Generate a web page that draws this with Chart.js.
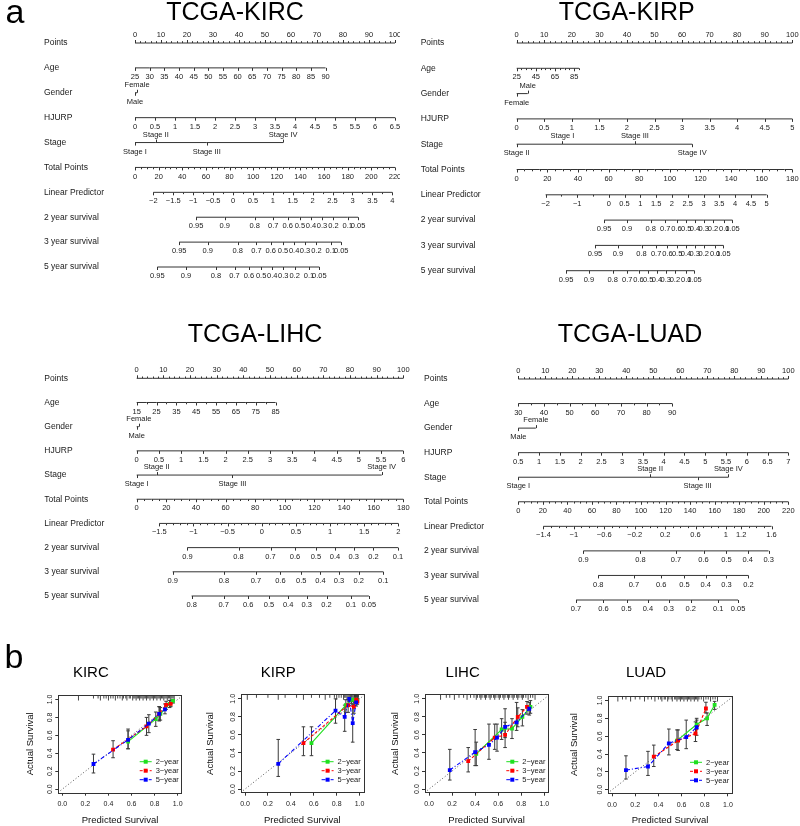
<!DOCTYPE html>
<html>
<head>
<meta charset="utf-8">
<script src="https://cdn.jsdelivr.net/npm/chart.js@4.4.1/dist/chart.umd.min.js"></script>
<style>
body { margin: 0; background: #fff; }
#fig { position: relative; width: 800px; height: 826px; overflow: hidden; background: #fff; }
#fig canvas { position: absolute; }
</style>
</head>
<body>
<div id="fig">
  <canvas id="nKirc" width="400" height="290" style="left:0px;top:0px"></canvas>
  <canvas id="nKirp" width="400" height="290" style="left:400px;top:0px"></canvas>
  <canvas id="nLihc" width="410" height="320" style="left:0px;top:300px"></canvas>
  <canvas id="nLuad" width="400" height="320" style="left:400px;top:300px"></canvas>
  <canvas id="cKirc" width="220" height="186" style="left:0px;top:640px"></canvas>
  <canvas id="cKirp" width="208" height="186" style="left:192.7px;top:640px"></canvas>
  <canvas id="cLihc" width="206" height="186" style="left:377px;top:640px"></canvas>
  <canvas id="cLuad" width="219" height="186" style="left:560.3px;top:640px"></canvas>
</div>
<script>
// ---- nomogram data (positions are on the 0-100 "Points" scale) ----
var nomoRows = ['Points', 'Age', 'Gender', 'HJURP', 'Stage', 'Total Points',
    'Linear Predictor', '2 year survival', '3 year survival', '5 year survival'];
var pointsTicks = [0, 10, 20, 30, 40, 50, 60, 70, 80, 90, 100];

// KIRC
var kircAge = [25, 30, 35, 40, 45, 50, 55, 60, 65, 70, 75, 80, 85, 90];
var kircAgePts = [0, 73.3];
var kircGender = ['Female', 'Male'];
var kircGenderPts = [0.8, 0];
var kircGenderSide = ['above', 'below'];
var kircHjurp = [0, 0.5, 1, 1.5, 2, 2.5, 3, 3.5, 4, 4.5, 5, 5.5, 6, 6.5];
var kircStage = ['Stage I', 'Stage II', 'Stage III', 'Stage IV'];
var kircStagePts = [0, 8, 27.6, 57];
var kircStageSide = ['below', 'above', 'below', 'above'];
var kircTotal = [0, 20, 40, 60, 80, 100, 120, 140, 160, 180, 200, 220];
var kircLp = [-2, -1.5, -1, -0.5, 0, 0.5, 1, 1.5, 2, 2.5, 3, 3.5, 4];
var kircLpPts = [7.05, 98.96];
var kircSurv = ['0.95', '0.9', '0.8', '0.7', '0.6', '0.5', '0.4', '0.3', '0.2', '0.1', '0.05'];
var kirc2y = [23.5, 34.5, 46.0, 53.2, 58.7, 63.4, 67.7, 71.9, 76.3, 81.8, 85.8];
var kirc3y = [17.0, 28.0, 39.5, 46.7, 52.2, 56.9, 61.2, 65.4, 69.8, 75.3, 79.3];
var kirc5y = [8.6, 19.6, 31.1, 38.3, 43.8, 48.5, 52.8, 57.0, 61.4, 66.9, 70.9];

// KIRP
var kirpAge = [25, 45, 65, 85];
var kirpAgeRange = [25, 90];
var kirpAgePts = [0, 22.6];
var kirpGender = ['Male', 'Female'];
var kirpGenderPts = [4.0, 0];
var kirpGenderSide = ['above', 'below'];
var kirpHjurp = [0, 0.5, 1, 1.5, 2, 2.5, 3, 3.5, 4, 4.5, 5];
var kirpStage = ['Stage II', 'Stage I', 'Stage III', 'Stage IV'];
var kirpStagePts = [0, 16.6, 42.9, 63.7];
var kirpStageSide = ['below', 'above', 'above', 'below'];
var kirpTotal = [0, 20, 40, 60, 80, 100, 120, 140, 160, 180];
var kirpLp = [-2, -1, 0, 0.5, 1, 1.5, 2, 2.5, 3, 3.5, 4, 4.5, 5];
var kirpLpPts = [10.5, 90.7];
var kirpSurv = ['0.95', '0.9', '0.8', '0.7', '0.6', '0.5', '0.4', '0.3', '0.2', '0.1', '0.05'];
var kirp2y = [31.7, 40.0, 48.6, 53.9, 58.0, 61.5, 64.7, 67.9, 71.2, 75.3, 78.3];
var kirp3y = [28.4, 36.7, 45.3, 50.6, 54.7, 58.2, 61.4, 64.6, 67.9, 72.0, 75.0];
var kirp5y = [17.9, 26.2, 34.8, 40.1, 44.2, 47.7, 50.9, 54.1, 57.4, 61.5, 64.5];

// LIHC
var lihcAge = [15, 25, 35, 45, 55, 65, 75, 85];
var lihcAgePts = [0, 52.1];
var lihcGender = ['Female', 'Male'];
var lihcGenderPts = [0.8, 0];
var lihcGenderSide = ['above', 'below'];
var lihcHjurp = [0, 0.5, 1, 1.5, 2, 2.5, 3, 3.5, 4, 4.5, 5, 5.5, 6];
var lihcStage = ['Stage I', 'Stage II', 'Stage III', 'Stage IV'];
var lihcStagePts = [0, 7.5, 35.9, 91.9];
var lihcStageSide = ['below', 'above', 'below', 'above'];
var lihcTotal = [0, 20, 40, 60, 80, 100, 120, 140, 160, 180];
var lihcLp = [-1.5, -1, -0.5, 0, 0.5, 1, 1.5, 2];
var lihcLpPts = [8.5, 98.1];
var lihcSurv23 = ['0.9', '0.8', '0.7', '0.6', '0.5', '0.4', '0.3', '0.2', '0.1'];
var lihcSurv5 = ['0.8', '0.7', '0.6', '0.5', '0.4', '0.3', '0.2', '0.1', '0.05'];
var lihc2y = [19.0, 38.2, 50.2, 59.4, 67.2, 74.4, 81.4, 88.8, 98.0];
var lihc3y = [13.5, 32.7, 44.7, 53.9, 61.7, 68.9, 75.9, 83.3, 92.5];
var lihc5y = [20.6, 32.6, 41.8, 49.6, 56.8, 63.8, 71.2, 80.4, 87.1];

// LUAD
var luadAge = [30, 40, 50, 60, 70, 80, 90];
var luadAgePts = [0, 57.0];
var luadGender = ['Female', 'Male'];
var luadGenderPts = [6.5, 0];
var luadGenderSide = ['above', 'below'];
var luadHjurp = [0.5, 1, 1.5, 2, 2.5, 3, 3.5, 4, 4.5, 5, 5.5, 6, 6.5, 7];
var luadStage = ['Stage I', 'Stage II', 'Stage III', 'Stage IV'];
var luadStagePts = [0, 48.8, 66.4, 77.8];
var luadStageSide = ['below', 'above', 'below', 'above'];
var luadTotal = [0, 20, 40, 60, 80, 100, 120, 140, 160, 180, 200, 220];
var luadLp = [-1.4, -1, -0.6, -0.2, 0.2, 0.6, 1, 1.2, 1.6];
var luadLpPts = [9.3, 93.8];
var luadSurv2 = ['0.9', '0.8', '0.7', '0.6', '0.5', '0.4', '0.3'];
var luadSurv3 = ['0.8', '0.7', '0.6', '0.5', '0.4', '0.3', '0.2'];
var luadSurv5 = ['0.7', '0.6', '0.5', '0.4', '0.3', '0.2', '0.1', '0.05'];
var luad2y = [24.1, 45.2, 58.4, 68.6, 77.1, 85.0, 92.7];
var luad3y = [29.6, 42.8, 52.9, 61.5, 69.4, 77.1, 85.2];
var luad5y = [21.4, 31.5, 40.1, 48.0, 55.7, 63.9, 74.0, 81.4];

// ---- calibration data: [2-year, 3-year, 5-year] ----
var calSeries = ['2\u2212year', '3\u2212year', '5\u2212year'];
var calTicks = [0, 0.2, 0.4, 0.6, 0.8, 1.0];

var kircPred = [[0.57, 0.81, 0.85, 0.93, 0.96], [0.44, 0.73, 0.84, 0.90, 0.94], [0.27, 0.57, 0.75, 0.84, 0.89]];
var kircObs = [[0.53, 0.78, 0.84, 0.95, 0.985], [0.44, 0.70, 0.84, 0.94, 0.95], [0.28, 0.55, 0.73, 0.84, 0.89]];
var kircLo = [[0.45, 0.70, 0.77, 0.91, 0.96], [0.35, 0.60, 0.76, 0.89, 0.92], [0.18, 0.45, 0.63, 0.77, 0.84]];
var kircHi = [[0.65, 0.86, 0.91, 0.99, 1.0], [0.54, 0.80, 0.92, 0.98, 0.99], [0.39, 0.67, 0.83, 0.92, 0.95]];
var kircRug = [0.14, 0.27, 0.31, 0.33, 0.36, 0.38, 0.4, 0.42, 0.44, 0.46, 0.48, 0.5, 0.52, 0.53, 0.55, 0.56, 0.58, 0.59,
    0.61, 0.62, 0.63, 0.64, 0.65, 0.66, 0.67, 0.68, 0.69, 0.7, 0.71, 0.72, 0.73, 0.74, 0.75, 0.76, 0.77, 0.78, 0.79, 0.8,
    0.81, 0.82, 0.83, 0.84, 0.85, 0.86, 0.87, 0.88, 0.89, 0.9, 0.91, 0.92, 0.93, 0.94, 0.95, 0.96, 0.97];

var kirpPred = [[0.58, 0.88, 0.93, 0.96, 0.98], [0.51, 0.90, 0.95, 0.97, 0.98], [0.29, 0.79, 0.87, 0.91, 0.94, 0.97]];
var kirpObs = [[0.51, 0.93, 0.99, 0.99, 0.98], [0.51, 0.93, 0.91, 0.99, 0.97], [0.28, 0.87, 0.80, 1.0, 0.73, 0.96]];
var kirpLo = [[0.37, 0.85, 0.95, 0.96, 0.96], [0.37, 0.85, 0.84, 0.95, 0.94], [0.14, 0.73, 0.64, 0.97, 0.52, 0.92]];
var kirpHi = [[0.69, 0.99, 1.0, 1.0, 1.0], [0.69, 0.99, 0.97, 1.0, 1.0], [0.55, 1.0, 0.93, 1.0, 0.94, 1.0]];
var kirpRug = [0.02, 0.1, 0.2, 0.29, 0.35, 0.45, 0.51, 0.58, 0.65, 0.7, 0.74, 0.78, 0.8, 0.82, 0.84, 0.86, 0.87, 0.88,
    0.89, 0.9, 0.91, 0.92, 0.93, 0.94, 0.95, 0.955, 0.96, 0.965, 0.97, 0.975, 0.98, 0.985, 0.99];

var lihcPred = [[0.41, 0.63, 0.72, 0.81, 0.88], [0.34, 0.57, 0.66, 0.77, 0.85], [0.18, 0.40, 0.52, 0.59, 0.66, 0.76, 0.87]];
var lihcObs = [[0.39, 0.66, 0.67, 0.80, 0.91], [0.31, 0.57, 0.60, 0.80, 0.91], [0.21, 0.41, 0.49, 0.57, 0.69, 0.74, 0.89]];
var lihcLo = [[0.26, 0.55, 0.56, 0.70, 0.84], [0.19, 0.44, 0.46, 0.69, 0.83], [0.10, 0.26, 0.33, 0.42, 0.57, 0.65, 0.82]];
var lihcHi = [[0.52, 0.78, 0.78, 0.88, 0.98], [0.46, 0.72, 0.74, 0.90, 0.97], [0.44, 0.66, 0.72, 0.72, 0.89, 0.96, 0.96]];
var lihcRug = [0.1, 0.15, 0.18, 0.22, 0.26, 0.3, 0.33, 0.36, 0.39, 0.41, 0.42, 0.44, 0.45, 0.46, 0.48, 0.49, 0.5, 0.52,
    0.53, 0.54, 0.56, 0.57, 0.58, 0.6, 0.61, 0.62, 0.64, 0.65, 0.66, 0.68, 0.69, 0.7, 0.72, 0.73, 0.74, 0.76, 0.77, 0.78,
    0.8, 0.81, 0.82, 0.84, 0.86, 0.88, 0.9, 0.92];

var luadPred = [[0.56, 0.73, 0.82, 0.885], [0.36, 0.57, 0.72, 0.81], [0.12, 0.31, 0.49, 0.64, 0.73]];
var luadObs = [[0.55, 0.73, 0.80, 0.95], [0.37, 0.55, 0.63, 0.91], [0.22, 0.26, 0.52, 0.59, 0.70]];
var luadLo = [[0.45, 0.68, 0.72, 0.90], [0.26, 0.44, 0.54, 0.86], [0.12, 0.16, 0.39, 0.46, 0.61]];
var luadHi = [[0.67, 0.78, 0.86, 0.99], [0.50, 0.67, 0.76, 0.98], [0.38, 0.43, 0.68, 0.78, 0.80]];
var luadRug = [0.05, 0.09, 0.12, 0.16, 0.2, 0.24, 0.28, 0.31, 0.34, 0.37, 0.4, 0.42, 0.43, 0.45, 0.46, 0.48, 0.49, 0.51,
    0.52, 0.54, 0.55, 0.56, 0.57, 0.58, 0.59, 0.6, 0.61, 0.62, 0.63, 0.64, 0.65, 0.66, 0.67, 0.68, 0.69, 0.7, 0.71, 0.72,
    0.73, 0.74, 0.75, 0.77, 0.79, 0.81, 0.83, 0.85, 0.87, 0.89, 0.91];

// ---- helpers ----
var FONT = "'Liberation Sans', Arial, Helvetica, sans-serif";
Chart.defaults.font.family = FONT;
Chart.defaults.color = '#1a1a1a';

function fmt(v) {
    return v < 0 ? '\u2212' + Math.abs(v) : String(v);
}

// linear axis row: labelled values plus optional unlabelled minor ticks
function lin(values, range, pts, minorStep) {
    var v0 = range[0], v1 = range[1];
    var toPts = function (v) { return pts[0] + (v - v0) * (pts[1] - pts[0]) / (v1 - v0); };
    var out = values.map(function (v) { return { x: toPts(v), label: fmt(v), major: true }; });
    if (minorStep) {
        var n = Math.round((v1 - v0) / minorStep);
        for (var i = 0; i <= n; i++) {
            var v = v0 + i * minorStep;
            var hit = values.some(function (w) { return Math.abs(w - v) < 1e-6; });
            if (!hit) out.push({ x: toPts(v), label: '', major: false });
        }
    }
    out.sort(function (a, b) { return a.x - b.x; });
    return out;
}

function cat(labels, pts, sides) {
    return labels.map(function (l, i) { return { x: pts[i], label: l, major: true, side: sides ? sides[i] : null }; });
}

var nomoPlugin = {
    id: 'nomo',
    afterDatasetsDraw: function (chart) {
        var ctx = chart.ctx;
        ctx.save();
        ctx.strokeStyle = '#333';
        ctx.lineWidth = 1;
        ctx.fillStyle = '#1a1a1a';
        ctx.font = '7.5px ' + FONT;
        ctx.textAlign = 'center';
        ctx.textBaseline = 'middle';
        chart.data.datasets.forEach(function (ds, i) {
            if (!ds.tickInfo) return;
            var meta = chart.getDatasetMeta(i);
            ds.tickInfo.forEach(function (t, j) {
                var el = meta.data[j];
                var side = t.side || ds.side;
                var dir = side === 'above' ? -1 : 1;
                var len = t.major ? 3 : 1.8;
                var x = Math.round(el.x) + 0.5;
                ctx.beginPath();
                ctx.moveTo(x, el.y);
                ctx.lineTo(x, el.y + dir * len);
                ctx.stroke();
                if (t.label) ctx.fillText(t.label, el.x, el.y + dir * (side === 'above' ? 8 : 9));
            });
        });
        ctx.restore();
    }
};

var panelText = {
    id: 'panelText',
    afterDraw: function (chart, args, opts) {
        var ctx = chart.ctx;
        (opts.items || []).forEach(function (it) {
            ctx.save();
            ctx.font = it.size + 'px ' + FONT;
            ctx.fillStyle = '#000';
            ctx.textAlign = 'center';
            ctx.textBaseline = 'middle';
            ctx.fillText(it.text, it.x, it.y);
            ctx.restore();
        });
    }
};

function nomogram(id, rows, geo) {
    var datasets = rows.map(function (r, i) {
        return {
            data: r.ticks.map(function (t) { return { x: t.x, y: nomoRows[i] }; }),
            tickInfo: r.ticks,
            side: r.side || 'below',
            showLine: true,
            borderColor: '#333',
            borderWidth: 1,
            pointRadius: 0,
            clip: false
        };
    });
    return new Chart(document.getElementById(id), {
        type: 'scatter',
        data: { datasets: datasets },
        options: {
            responsive: false,
            animation: false,
            events: [],
            layout: { padding: { left: geo.left, right: geo.right, top: geo.top, bottom: geo.bottom } },
            scales: {
                x: { type: 'linear', min: 0, max: 100, display: false },
                y: {
                    type: 'category',
                    labels: nomoRows,
                    offset: false,
                    grid: { display: false },
                    border: { display: false },
                    ticks: { crossAlign: 'far', padding: 0, font: { size: 8.5 }, color: '#1a1a1a', autoSkip: false },
                    afterFit: function (s) { s.width = geo.axisW; }
                }
            },
            plugins: {
                legend: { display: false },
                tooltip: { enabled: false },
                panelText: { items: geo.texts }
            }
        },
        plugins: [nomoPlugin, panelText]
    });
}

function row(ticks, side) { return { ticks: ticks, side: side }; }

nomogram('nKirc', [
    row(lin(pointsTicks, [0, 100], [0, 100], 2), 'above'),
    row(lin(kircAge, [25, 90], kircAgePts)),
    row(cat(kircGender, kircGenderPts, kircGenderSide)),
    row(lin(kircHjurp, [0, 6.5], [0, 100])),
    row(cat(kircStage, kircStagePts, kircStageSide)),
    row(lin(kircTotal, [0, 220], [0, 100], 5)),
    row(lin(kircLp, [-2, 4], kircLpPts, 0.25)),
    row(cat(kircSurv, kirc2y)),
    row(cat(kircSurv, kirc3y)),
    row(cat(kircSurv, kirc5y))
], { left: 44, axisW: 91, right: 5, top: 43, bottom: 23,
     texts: [{ text: 'TCGA-KIRC', x: 235, y: 13.5, size: 25 }, { text: 'a', x: 15, y: 14, size: 34 }] });

nomogram('nKirp', [
    row(lin(pointsTicks, [0, 100], [0, 100], 2), 'above'),
    row(lin(kirpAge, kirpAgeRange, kirpAgePts, 5)),
    row(cat(kirpGender, kirpGenderPts, kirpGenderSide)),
    row(lin(kirpHjurp, [0, 5], [0, 100])),
    row(cat(kirpStage, kirpStagePts, kirpStageSide)),
    row(lin(kirpTotal, [0, 180], [0, 100], 5)),
    row(lin(kirpLp, [-2, 5], kirpLpPts, 0.5)),
    row(cat(kirpSurv, kirp2y)),
    row(cat(kirpSurv, kirp3y)),
    row(cat(kirpSurv, kirp5y))
], { left: 20.7, axisW: 96, right: 7.7, top: 43, bottom: 19.3,
     texts: [{ text: 'TCGA-KIRP', x: 226.7, y: 13.5, size: 25 }] });

nomogram('nLihc', [
    row(lin(pointsTicks, [0, 100], [0, 100], 2), 'above'),
    row(lin(lihcAge, [15, 85], lihcAgePts, 5)),
    row(cat(lihcGender, lihcGenderPts, lihcGenderSide)),
    row(lin(lihcHjurp, [0, 6], [0, 100])),
    row(cat(lihcStage, lihcStagePts, lihcStageSide)),
    row(lin(lihcTotal, [0, 180], [0, 100], 5)),
    row(lin(lihcLp, [-1.5, 2], lihcLpPts, 0.1)),
    row(cat(lihcSurv23, lihc2y)),
    row(cat(lihcSurv23, lihc3y)),
    row(cat(lihcSurv5, lihc5y))
], { left: 44.3, axisW: 92.4, right: 6.7, top: 78.3, bottom: 24,
     texts: [{ text: 'TCGA-LIHC', x: 255, y: 35.5, size: 25 }] });

nomogram('nLuad', [
    row(lin(pointsTicks, [0, 100], [0, 100], 2), 'above'),
    row(lin(luadAge, [30, 90], luadAgePts, 5)),
    row(cat(luadGender, luadGenderPts, luadGenderSide)),
    row(lin(luadHjurp, [0.5, 7], [0, 100])),
    row(cat(luadStage, luadStagePts, luadStageSide)),
    row(lin(luadTotal, [0, 220], [0, 100], 5)),
    row(lin(luadLp, [-1.4, 1.6], luadLpPts, 0.1)),
    row(cat(luadSurv2, luad2y)),
    row(cat(luadSurv3, luad3y)),
    row(cat(luadSurv5, luad5y))
], { left: 24, axisW: 94.3, right: 11.7, top: 79, bottom: 20,
     texts: [{ text: 'TCGA-LUAD', x: 230, y: 35.5, size: 25 }] });

// ---- calibration plots ----
var calColors = ['#1fe01f', '#ff0000', '#0000ff'];
var calDash = [[], [3, 2], [4, 2, 1, 2]];

var calibPlugin = {
    id: 'calib',
    beforeDatasetsDraw: function (chart, args, opts) {
        var ctx = chart.ctx, a = chart.chartArea, x = chart.scales.x, y = chart.scales.y;
        ctx.save();
        ctx.beginPath();
        ctx.rect(a.left, a.top, a.right - a.left, a.bottom - a.top);
        ctx.clip();
        ctx.strokeStyle = 'rgba(30,30,30,0.9)';
        ctx.lineWidth = 0.9;
        opts.rug.forEach(function (v, j) {
            var px = x.getPixelForValue(v);
            ctx.beginPath();
            ctx.moveTo(px, a.top);
            ctx.lineTo(px, a.top + (j % 3 === 0 ? 5.5 : 3.5));
            ctx.stroke();
        });
        ctx.strokeStyle = '#3a3a3a';
        ctx.lineWidth = 1;
        chart.data.datasets.forEach(function (ds) {
            if (!ds.errLo) return;
            ds.errLo.forEach(function (lo, j) {
                var px = x.getPixelForValue(ds.data[j].x);
                var p1 = y.getPixelForValue(lo), p2 = y.getPixelForValue(ds.errHi[j]);
                ctx.beginPath();
                ctx.moveTo(px, p1); ctx.lineTo(px, p2);
                ctx.moveTo(px - 1.8, p1); ctx.lineTo(px + 1.8, p1);
                ctx.moveTo(px - 1.8, p2); ctx.lineTo(px + 1.8, p2);
                ctx.stroke();
            });
        });
        ctx.restore();
    },
    afterDraw: function (chart) {
        var ctx = chart.ctx, a = chart.chartArea;
        ctx.save();
        ctx.strokeStyle = '#333';
        ctx.lineWidth = 1;
        ctx.strokeRect(Math.round(a.left) + 0.5, Math.round(a.top) + 0.5,
            Math.round(a.right - a.left), Math.round(a.bottom - a.top));
        var rowsY = [31, 22, 13];
        ctx.font = '7.5px ' + FONT;
        ctx.textBaseline = 'middle';
        ctx.textAlign = 'left';
        calSeries.forEach(function (name, k) {
            var yy = a.bottom - rowsY[k];
            ctx.strokeStyle = calColors[k];
            ctx.setLineDash(calDash[k]);
            ctx.lineWidth = 1;
            ctx.beginPath();
            ctx.moveTo(a.right - 42, yy);
            ctx.lineTo(a.right - 30, yy);
            ctx.stroke();
            ctx.setLineDash([]);
            ctx.fillStyle = calColors[k];
            ctx.fillRect(a.right - 38, yy - 2, 4, 4);
            ctx.fillStyle = '#1a1a1a';
            ctx.fillText(name, a.right - 26, yy + 0.5);
        });
        ctx.restore();
    }
};

function calibration(id, name, pred, obs, lo, hi, rug, geo) {
    var datasets = [];
    [2, 1, 0].forEach(function (k) {
        datasets.push({
            data: pred[k].map(function (p, j) { return { x: p, y: obs[k][j] }; }),
            errLo: lo[k],
            errHi: hi[k],
            showLine: true,
            borderColor: calColors[k],
            borderWidth: 1.1,
            borderDash: calDash[k],
            pointStyle: 'rect',
            pointRadius: 2.7,
            pointBackgroundColor: calColors[k],
            pointBorderColor: calColors[k],
            pointBorderWidth: 0
        });
    });
    datasets.push({
        data: [{ x: -0.06, y: -0.06 }, { x: 1.07, y: 1.07 }],
        showLine: true,
        borderColor: '#555',
        borderWidth: 1,
        borderDash: [1, 2.2],
        pointRadius: 0
    });
    var setTicks = function (s) { s.ticks = calTicks.map(function (v) { return { value: v }; }); };
    return new Chart(document.getElementById(id), {
        type: 'scatter',
        data: { datasets: datasets },
        options: {
            responsive: false,
            animation: false,
            events: [],
            layout: { padding: { left: 0, right: geo.padR, top: 0, bottom: 0 } },
            scales: {
                x: {
                    type: 'linear', min: -0.035, max: 1.035,
                    afterBuildTicks: setTicks,
                    afterFit: function (s) { s.height = geo.xH; },
                    grid: { drawOnChartArea: false, drawTicks: true, tickLength: 3, color: '#333' },
                    border: { display: false },
                    ticks: { font: { size: 7 }, color: '#1a1a1a', padding: 4.5, maxRotation: 0,
                             callback: function (v) { return v.toFixed(1); } },
                    title: { display: true, text: 'Predicted Survival', font: { size: 9.5 }, color: '#111',
                             padding: { top: 0, bottom: 0.3 } }
                },
                y: {
                    type: 'linear', min: -0.04, max: 1.05,
                    afterBuildTicks: setTicks,
                    afterFit: function (s) { s.width = geo.yW; },
                    grid: { drawOnChartArea: false, drawTicks: true, tickLength: 3, color: '#333' },
                    border: { display: false },
                    ticks: { font: { size: 7 }, color: '#1a1a1a', padding: 0, minRotation: 90, maxRotation: 90,
                             crossAlign: 'center', callback: function (v) { return v.toFixed(1); } },
                    title: { display: true, text: 'Actual Survival', font: { size: 9.5 }, color: '#111',
                             padding: { top: geo.yT, bottom: 0 } }
                }
            },
            plugins: {
                legend: { display: false },
                tooltip: { enabled: false },
                title: { display: true, text: name, font: { size: 15, weight: 'normal', lineHeight: 1 }, color: '#000',
                         padding: { top: 25.5, bottom: geo.tB } },
                calib: { rug: rug },
                panelText: { items: geo.texts || [] }
            }
        },
        plugins: [calibPlugin, panelText]
    });
}

calibration('cKirc', 'KIRC', kircPred, kircObs, kircLo, kircHi, kircRug,
    { padR: 38.3, yW: 58.3, yT: 24.3, xH: 33.3, tB: 14.5, texts: [{ text: 'b', x: 14, y: 18.5, size: 34 }] });
calibration('cKirp', 'KIRP', kirpPred, kirpObs, kirpLo, kirpHi, kirpRug,
    { padR: 37.4, yW: 48, yT: 11.6, xH: 33.3, tB: 13.8 });
calibration('cLihc', 'LIHC', lihcPred, lihcObs, lihcLo, lihcHi, lihcRug,
    { padR: 34.7, yW: 48, yT: 12.3, xH: 33.3, tB: 13.8 });
calibration('cLuad', 'LUAD', luadPred, luadObs, luadLo, luadHi, luadRug,
    { padR: 47, yW: 48, yT: 9, xH: 32.7, tB: 15.5 });
</script>
</body>
</html>
